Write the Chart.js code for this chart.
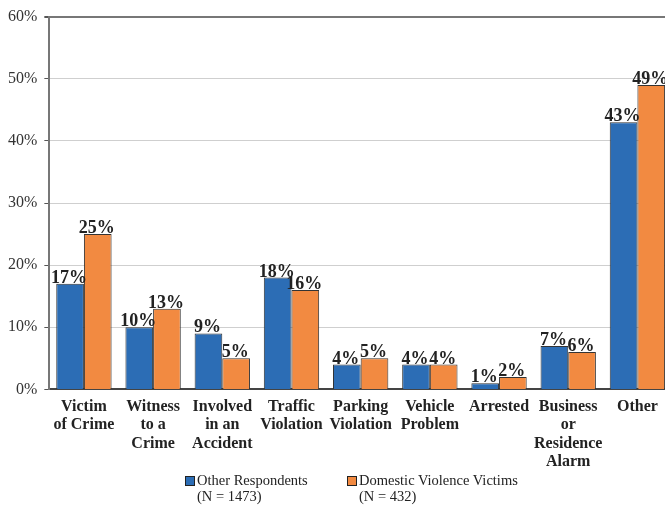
<!DOCTYPE html>
<html>
<head>
<meta charset="utf-8">
<script src="https://cdn.jsdelivr.net/npm/chart.js@4.4.0/dist/chart.umd.min.js"></script>
<style>
  body { margin: 0; overflow: hidden; background: #fff; }
  #wrap { position: relative; width: 665px; height: 507px; overflow: hidden; }
  .leg { position: absolute; top: 472px; font: 14.5px "Liberation Serif", serif; color: #222; line-height: 16px; }
  .leg span.sw { position: absolute; left: -12px; top: 4px; width: 8px; height: 8px; border: 1px solid #222; }
</style>
</head>
<body>
<div id="wrap">
  <canvas id="myChart" width="672" height="507"></canvas>
  <div id="legend"></div>
</div>
<script>
const categorias = [
  ['Victim', 'of Crime'],
  ['Witness', 'to a', 'Crime'],
  ['Involved', 'in an', 'Accident'],
  ['Traffic', 'Violation'],
  ['Parking', 'Violation'],
  ['Vehicle', 'Problem'],
  ['Arrested'],
  ['Business', 'or', 'Residence', 'Alarm'],
  ['Other']
];
const outrosRespondentes = [17, 10, 9, 18, 4, 4, 1, 7, 43];
const vitimasViolencia = [25, 13, 5, 16, 5, 4, 2, 6, 49];
const nomesSeries = ['Other Respondents', 'Domestic Violence Victims'];
const notasSeries = ['(N = 1473)', '(N = 432)'];
const coresSeries = ['#2c6db5', '#f28a41'];

// legenda em html embaixo
const legendaX = [197, 359];
const legend = document.getElementById('legend');
nomesSeries.forEach(function(nome, i){
  const d = document.createElement('div');
  d.className = 'leg';
  d.style.left = legendaX[i] + 'px';
  d.innerHTML = `<span class="sw" style="background:${coresSeries[i]}"></span>${nome}<br>${notasSeries[i]}`;
  legend.appendChild(d);
});

const rotulos = {
  id: 'rotulos',
  afterDatasetsDraw(chart) {
    const ctx = chart.ctx;
    ctx.save();
    ctx.font = 'bold 18px "Liberation Serif", serif';
    ctx.fillStyle = '#222';
    ctx.textAlign = 'center';
    ctx.textBaseline = 'alphabetic';
    chart.data.datasets.forEach(function(ds, i){
      chart.getDatasetMeta(i).data.forEach(function(bar, j){
        ctx.fillText(ds.data[j] + '%', bar.x - 1, bar.y - 1);
      });
    });
    ctx.restore();
  }
};

const ctx = document.getElementById('myChart');
new Chart(ctx, {
  type: 'bar',
  data: {
    labels: categorias,
    datasets: [{
      label: nomesSeries[0],
      data: outrosRespondentes,
      backgroundColor: coresSeries[0],
      borderColor: '#333',
      borderWidth: 1
    }, {
      label: nomesSeries[1],
      data: vitimasViolencia,
      backgroundColor: coresSeries[1],
      borderColor: '#333',
      borderWidth: 1
    }]
  },
  options: {
    responsive: false,
    animation: false,
    categoryPercentage: 0.8,
    barPercentage: 1.0,
    layout: { padding: { top: 8, left: 1, right: 0, bottom: 36 } },
    plugins: {
      legend: { display: false },
      tooltip: { enabled: false }
    },
    scales: {
      x: {
        grid: { display: false },
        border: { color: '#444', width: 2 },
        ticks: {
          color: '#222',
          padding: 0,
          maxRotation: 0,
          autoSkip: false,
          font: { family: '"Liberation Serif", serif', size: 16, weight: 'bold', lineHeight: 1.15 }
        }
      },
      y: {
        min: 0,
        max: 60,
        grid: {
          color: (c) => c.tick && c.tick.value === 60 ? '#777' : '#cfcfcf',
          lineWidth: (c) => c.tick && c.tick.value === 60 ? 2 : 1,
          tickColor: '#555',
          tickLength: 5
        },
        border: { color: '#777', width: 2 },
        ticks: {
          stepSize: 10,
          color: '#333',
          padding: 7,
          font: { family: '"Liberation Serif", serif', size: 16 },
          callback: (v) => v + '%'
        }
      }
    }
  },
  plugins: [rotulos]
});
</script>
</body>
</html>
